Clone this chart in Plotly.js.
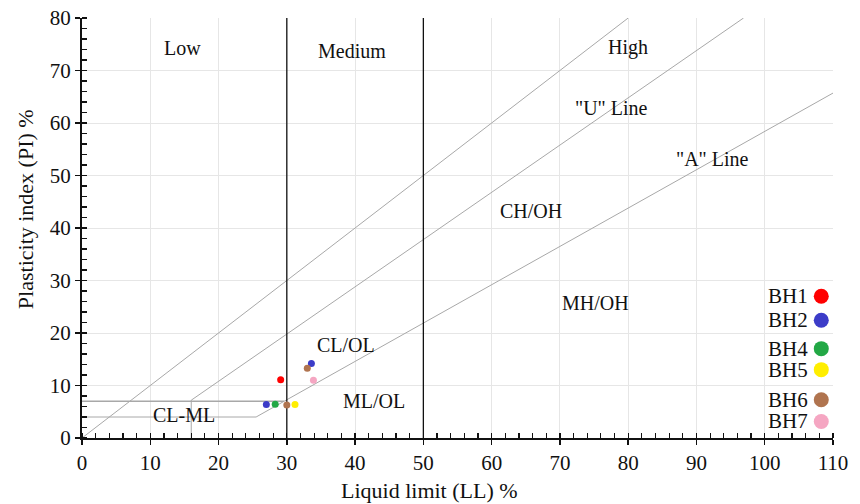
<!DOCTYPE html>
<html><head><meta charset="utf-8">
<script src="https://cdn.plot.ly/plotly-3.0.1.min.js"></script>
<style>html,body{margin:0;padding:0;background:#fff}#c{width:860px;height:504px}</style>
</head><body><div id="c"></div>
<script>
// Sample points
const bhNames = ["BH1","BH2","BH4","BH5","BH6","BH7"];
const bhColors = ["#ff0000","#3c3cc8","#22a845","#ffee00","#b0744f","#f5a6c2"];
const bhLL = [[29.1],[27.0,33.6],[28.3],[31.2],[30.0,33.0],[33.9]];
const bhPI = [[11.1],[6.4,14.2],[6.45],[6.4],[6.3,13.3],[11.0]];
// Chart lines
const uLineLL = [16,16,96.9];
const uLinePI = [0,7.2,80];
const aLineLL = [0,25.5,110];
const aLinePI = [4,4,65.7];
const pi7LL = [0,29.6];
const pi7PI = [7,7];
const equalLL = [0,80];
const equalPI = [0,80];
const boundLL = [30,50];
const boundPI = [0,80];
// Region labels
const labelText = ["Low","Medium","High","\"U\" Line","\"A\" Line","CH/OH","MH/OH","CL/OL","ML/OL","CL-ML"];
const labelLL = [14.7,39.6,80,77.5,92.3,65.7,75.2,38.6,42.7,15];
const labelPI = [74.3,73.8,74.3,62.8,53.1,43.3,25.7,17.8,7.1,4.4];
// Legend positions (paper y)
const legY = [0.3375,0.2803,0.2127,0.1627,0.0911,0.0394];
const xTitle = "Liquid limit (LL) %";
const yTitle = "Plasticity index (PI) %";

const grey = "#a8a8a8";
const traces = [];
traces.push({x:equalLL,y:equalPI,mode:"lines",line:{color:grey,width:1},hoverinfo:"skip"});
traces.push({x:uLineLL,y:uLinePI,mode:"lines",line:{color:grey,width:1},hoverinfo:"skip"});
traces.push({x:aLineLL,y:aLinePI,mode:"lines",line:{color:grey,width:1},hoverinfo:"skip"});
traces.push({x:pi7LL,y:pi7PI,mode:"lines",line:{color:grey,width:1.6},hoverinfo:"skip"});
boundLL.forEach(v=>traces.push({x:[v,v],y:boundPI,mode:"lines",line:{color:"#111",width:1.3},hoverinfo:"skip"}));
bhNames.forEach((n,i)=>traces.push({x:bhLL[i],y:bhPI[i],name:n,mode:"markers",marker:{color:bhColors[i],size:7}}));

const font = {family:"Liberation Serif, Times New Roman, serif",color:"#111",size:21};
const annotations = labelText.map((t,i)=>({x:labelLL[i],y:labelPI[i],text:t,showarrow:false,font:{...font,size:20},xref:"x",yref:"y"}));
const shapes = [];
bhNames.forEach((n,i)=>{
  annotations.push({x:0.9699,y:legY[i],xref:"paper",yref:"paper",xanchor:"right",yanchor:"middle",text:n,showarrow:false,font:font});
  shapes.push({type:"circle",xref:"paper",yref:"paper",xsizemode:"pixel",ysizemode:"pixel",xanchor:0.9844,yanchor:legY[i],x0:-7.5,x1:7.5,y0:-7.5,y1:7.5,fillcolor:bhColors[i],line:{width:0}});
});
annotations.push({x:0.4625,y:-0.125,xref:"paper",yref:"paper",xanchor:"center",yanchor:"middle",text:xTitle,showarrow:false,font:{...font,size:22}});
annotations.push({x:-0.076,y:0.5447,xref:"paper",yref:"paper",xanchor:"center",yanchor:"middle",textangle:-90,text:yTitle,showarrow:false,font:{...font,size:22}});

const layout = {
  width:860,height:504,
  margin:{l:82,r:27,t:18,b:66},
  paper_bgcolor:"#fff",plot_bgcolor:"#fff",
  showlegend:false,
  font:font,
  xaxis:{range:[0,110],dtick:10,showline:true,linecolor:"#111",linewidth:2,zeroline:false,
    gridcolor:"#e6e6e6",ticks:"outside",ticklen:5,tickwidth:1.5,tickcolor:"#111",
    minor:{dtick:2,ticks:"inside",ticklen:5,tickwidth:1.2,tickcolor:"#111",showgrid:false},
    tickfont:font,fixedrange:true},
  yaxis:{range:[0,80],dtick:10,showline:true,linecolor:"#111",linewidth:2,zeroline:false,
    gridcolor:"#e6e6e6",ticks:"outside",ticklen:5,tickwidth:1.5,tickcolor:"#111",
    minor:{dtick:2,ticks:"inside",ticklen:5,tickwidth:1.2,tickcolor:"#111",showgrid:false},
    tickfont:font,fixedrange:true},
  annotations:annotations,
  shapes:shapes
};
Plotly.newPlot("c",traces,layout,{displayModeBar:false,staticPlot:true});
</script></body></html>
